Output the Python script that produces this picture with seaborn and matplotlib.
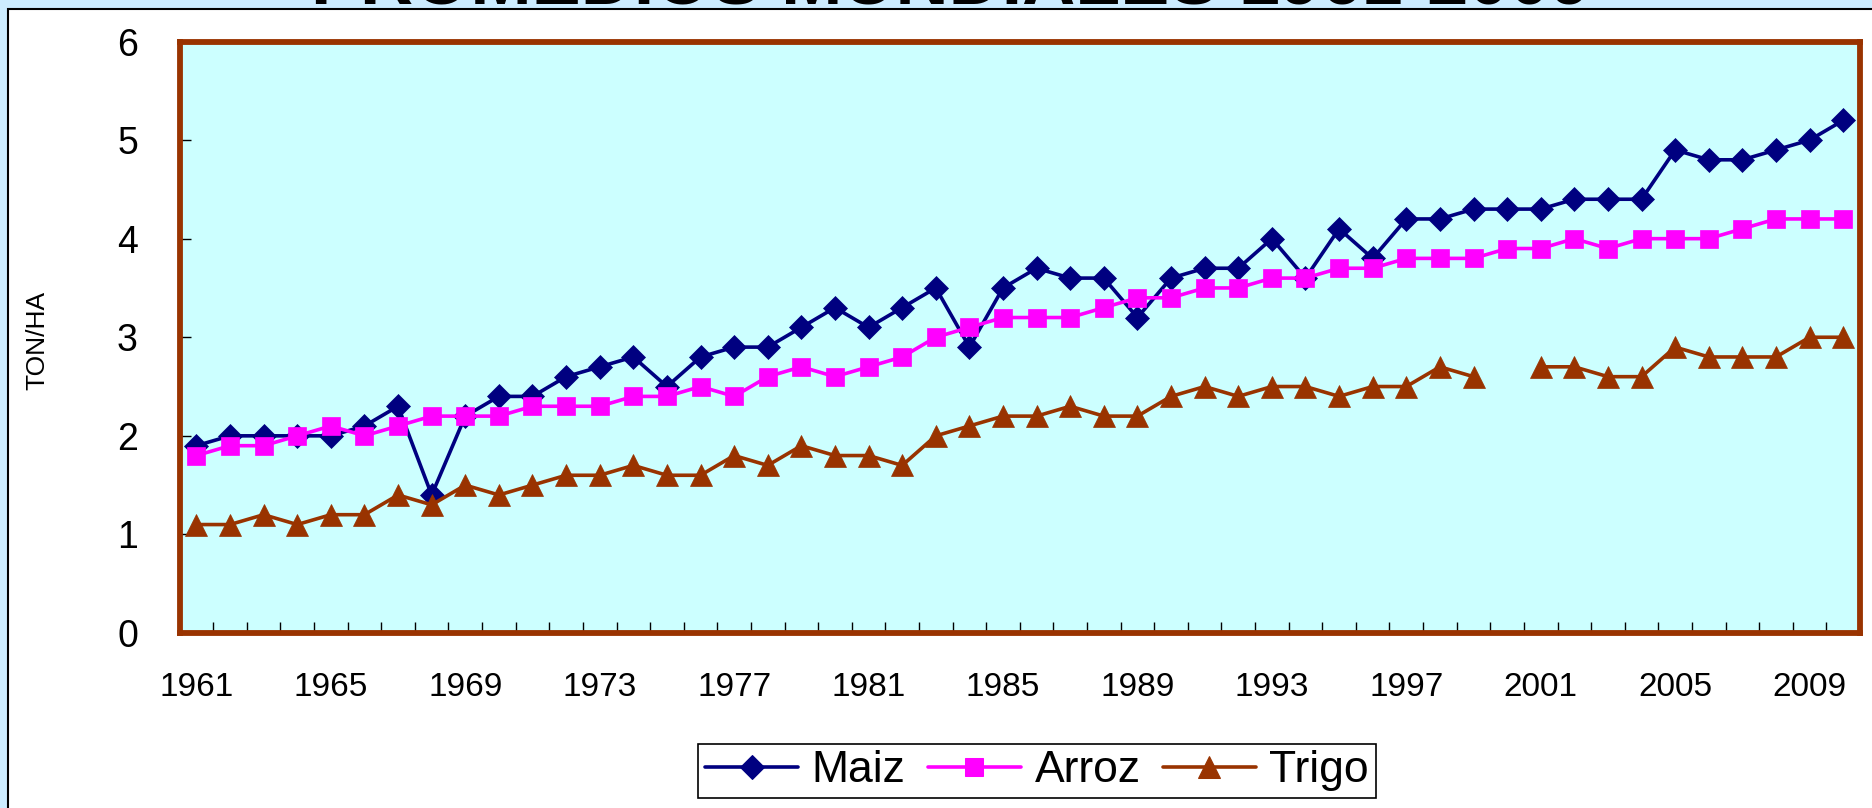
import numpy as np
import pandas as pd
import seaborn as sns
import matplotlib.pyplot as plt
from matplotlib import font_manager
from matplotlib.patches import Rectangle

# rendimientos medios mundiales (ton/ha)
anios = list(range(1961, 2011))
maiz = [1.9, 2.0, 2.0, 2.0, 2.0, 2.1, 2.3, 1.4, 2.2, 2.4,
        2.4, 2.6, 2.7, 2.8, 2.5, 2.8, 2.9, 2.9, 3.1, 3.3,
        3.1, 3.3, 3.5, 2.9, 3.5, 3.7, 3.6, 3.6, 3.2, 3.6,
        3.7, 3.7, 4.0, 3.6, 4.1, 3.8, 4.2, 4.2, 4.3, 4.3,
        4.3, 4.4, 4.4, 4.4, 4.9, 4.8, 4.8, 4.9, 5.0, 5.2]
arroz = [1.8, 1.9, 1.9, 2.0, 2.1, 2.0, 2.1, 2.2, 2.2, 2.2,
         2.3, 2.3, 2.3, 2.4, 2.4, 2.5, 2.4, 2.6, 2.7, 2.6,
         2.7, 2.8, 3.0, 3.1, 3.2, 3.2, 3.2, 3.3, 3.4, 3.4,
         3.5, 3.5, 3.6, 3.6, 3.7, 3.7, 3.8, 3.8, 3.8, 3.9,
         3.9, 4.0, 3.9, 4.0, 4.0, 4.0, 4.1, 4.2, 4.2, 4.2]
trigo = [1.1, 1.1, 1.2, 1.1, 1.2, 1.2, 1.4, 1.3, 1.5, 1.4,
         1.5, 1.6, 1.6, 1.7, 1.6, 1.6, 1.8, 1.7, 1.9, 1.8,
         1.8, 1.7, 2.0, 2.1, 2.2, 2.2, 2.3, 2.2, 2.2, 2.4,
         2.5, 2.4, 2.5, 2.5, 2.4, 2.5, 2.5, 2.7, 2.6, np.nan,
         2.7, 2.7, 2.6, 2.6, 2.9, 2.8, 2.8, 2.8, 3.0, 3.0]

series = {"Maiz": maiz, "Arroz": arroz, "Trigo": trigo}
colores = {"Maiz": "#000080", "Arroz": "#FF00FF", "Trigo": "#993300"}
marcadores = {"Maiz": "D", "Arroz": "s", "Trigo": "^"}
tam = {"D": 12.5, "s": 13.5, "^": 16}

frames = []
for nombre, valores in series.items():
    v = np.array(valores, dtype=float)
    tramo = np.cumsum(np.isnan(v))  # corta la linea donde falta el dato
    frames.append(pd.DataFrame({"pos": np.arange(len(anios)), "valor": v,
                                "cultivo": nombre, "tramo": tramo}))
df = pd.concat(frames).dropna()

sns.set_style("white", {"text.color": "black", "xtick.color": "black",
                        "ytick.color": "black", "axes.labelcolor": "black"})
plt.rcParams["font.family"] = ["Liberation Sans", "DejaVu Sans"]

fig = plt.figure(figsize=(18.72, 8.08), dpi=100, facecolor="#CCECFF")

# panel blanco detras del grafico
fig.patches.append(Rectangle((8 / 1872, -0.1), 1.1, 1.1 - 9 / 808,
                             transform=fig.transFigure, facecolor="white",
                             edgecolor="black", lw=1.5, zorder=-5))

ax = fig.add_axes([179.6 / 1872, 175 / 808, (1860 - 179.6) / 1872, (633 - 41.5) / 808])
ax.set_zorder(2)
ax.set_facecolor("#CCFFFF")

sns.lineplot(data=df, x="pos", y="valor", hue="cultivo", style="cultivo",
             units="tramo", estimator=None, palette=colores, markers=marcadores,
             dashes=False, lw=2.6, ax=ax)

for line in ax.lines:
    m = line.get_marker()
    if m in tam:
        line.set_markersize(tam[m])
        line.set_markeredgecolor(line.get_color())
        line.set_markeredgewidth(0.5)

leg = ax.get_legend()
handles = leg.legend_handles
labels = [t.get_text() for t in leg.get_texts()]
leg.remove()
for h in handles:
    m = h.get_marker()
    if m in tam:
        h.set_markersize(tam[m])
        h.set_markeredgecolor(h.get_color())
    h.set_linewidth(2.6)

ax.set_xlim(-0.5, len(anios) - 0.5)
ax.set_ylim(0, 6)
ax.set_yticks(range(0, 7))
ax.set_xticks(range(0, len(anios), 4))
ax.set_xticklabels([str(a) for a in anios[::4]])
ax.set_xticks(np.arange(-0.5, len(anios), 1), minor=True)
ax.tick_params(axis="x", which="major", length=0, pad=28, labelsize=24)
ax.tick_params(axis="x", which="minor", direction="in", length=8, width=1, color="black", bottom=True)
ax.tick_params(axis="y", direction="in", length=8, width=1, color="black", pad=30, labelsize=27, left=True)
ax.set_xlabel("")
ax.set_ylabel("")

for s in ax.spines.values():
    s.set_color("#993300")
    s.set_linewidth(4.2)

# etiqueta del eje y en letra estrecha si esta disponible
nombres = {f.name for f in font_manager.fontManager.ttflist}
if "Liberation Sans Narrow" in nombres:
    fam_y, size_y = ["Liberation Sans Narrow", "Liberation Sans"], 22
else:
    fam_y, size_y = ["Liberation Sans", "DejaVu Sans"], 19
fig.text(0.020, 0.579, "TON/HA", rotation=90, ha="center", va="center",
         fontsize=size_y, family=fam_y)
fig.text(0.508, 1 - 4 / 808, "PROMEDIOS MUNDIALES 1961-2009", ha="center", va="baseline",
         fontsize=53, fontweight="bold")

fig.legend(handles, labels, loc="center", bbox_to_anchor=(0.554, 0.046), ncol=3,
           fontsize=32, frameon=True, fancybox=False, edgecolor="black",
           framealpha=1, handlelength=2.1, columnspacing=0.5, handletextpad=0.3,
           borderpad=0.15, borderaxespad=0).get_frame().set_linewidth(1.2)

fig.savefig("out.png", dpi=100, facecolor=fig.get_facecolor())
